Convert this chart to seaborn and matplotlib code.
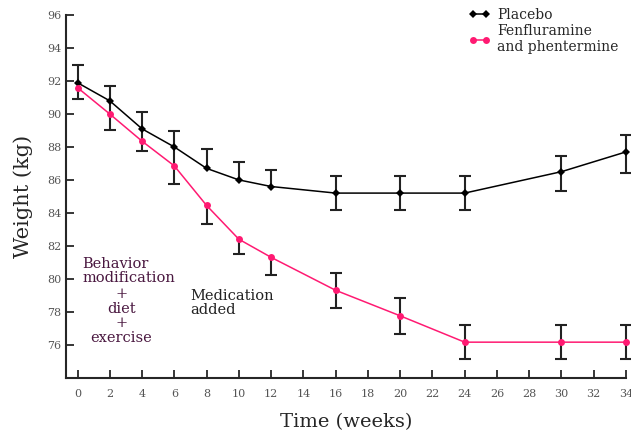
import numpy as np
import pandas as pd
import matplotlib
matplotlib.use("Agg")
import matplotlib.pyplot as plt
import seaborn as sns

# values
weeks = [0, 2, 4, 6, 8, 10, 12, 16, 20, 24, 30, 34]
placebo = [91.9, 90.8, 89.1, 88.0, 86.7, 86.0, 85.6, 85.2, 85.2, 85.2, 86.5, 87.7]
placebo_err_up = [1.1, 0.9, 1.0, 0.95, 1.15, 1.1, 1.0, 1.05, 1.05, 1.05, 0.95, 1.05]
placebo_err_down = [0.35, 0.85, 0.8, 1.15, 0, 0, 0, 1.0, 1.0, 1.0, 1.15, 1.3]
fenphen = [91.6, 90.0, 88.35, 86.85, 84.45, 82.4, 81.3, 79.3, 77.75, 76.15, 76.15, 76.15]
fenphen_err_up = [0, 0, 0, 0, 0, 0, 0, 1.05, 1.1, 1.05, 1.05, 1.05]
fenphen_err_down = [0.7, 1.0, 0.6, 1.1, 1.15, 0.9, 1.05, 1.05, 1.1, 1.0, 1.0, 1.0]
x_ticks = list(range(0, 35, 2))
y_ticks = list(range(76, 97, 2))

pink = "#ff1a72"
bar_color = "#222222"

sns.set_style("ticks")
plt.rcParams["font.family"] = ["DejaVu Serif"]
plt.rcParams["xtick.direction"] = "in"
plt.rcParams["ytick.direction"] = "in"

df = pd.DataFrame({"weeks": weeks, "placebo": placebo, "fenphen": fenphen})

fig = plt.figure(figsize=(6.31, 4.34), dpi=100)
ax = fig.add_axes([0.105, 0.13, 0.887, 0.835])

# error bars: where the two groups' bars touch they read as one bar,
# so merge the ranges per week; caps only where a bar ends away from a point
cap_x, cap_y = [], []
for i, w in enumerate(weeks):
    pts = (placebo[i], fenphen[i])
    spans = sorted([(placebo[i] - placebo_err_down[i], placebo[i] + placebo_err_up[i]),
                    (fenphen[i] - fenphen_err_down[i], fenphen[i] + fenphen_err_up[i])])
    merged = [list(spans[0])]
    for lo, hi in spans[1:]:
        if lo <= merged[-1][1]:
            merged[-1][1] = max(merged[-1][1], hi)
        else:
            merged.append([lo, hi])
    for lo, hi in merged:
        ax.vlines(w, lo, hi, color=bar_color, lw=1.5, clip_on=False)
        for end in (lo, hi):
            if end not in pts:
                cap_x.append(w)
                cap_y.append(end)
ax.plot(cap_x, cap_y, ls="none", marker="_", markersize=9, markeredgewidth=1.5,
        color=bar_color, clip_on=False)

sns.lineplot(data=df, x="weeks", y="placebo", ax=ax, color="black", lw=1.1,
             marker="D", markersize=4, markeredgewidth=0, label="Placebo")
sns.lineplot(data=df, x="weeks", y="fenphen", ax=ax, color=pink, lw=1.1,
             marker="o", markersize=5, markeredgewidth=0,
             label="Fenfluramine\nand phentermine")
for ln in ax.lines:
    ln.set_clip_on(False)

ax.set_xlim(-0.7, 34)
ax.set_ylim(74, 96)
ax.set_xticks(x_ticks)
ax.set_yticks(y_ticks)
ax.tick_params(axis="both", labelsize=8, labelcolor="#555555", length=6, width=1.3)
ax.tick_params(axis="x", pad=8)
for s in ["top", "right"]:
    ax.spines[s].set_visible(False)
for s in ["left", "bottom"]:
    ax.spines[s].set_linewidth(1.5)

ax.set_xlabel("Time (weeks)", fontsize=14, labelpad=10)
ax.set_ylabel("Weight (kg)", fontsize=15, labelpad=10)

ax.text(0.3, 81.35, "Behavior\nmodification", ha="left", va="top", fontsize=10.5,
        color="#4a1840", linespacing=1.05)
ax.text(2.7, 79.5, "+\ndiet\n+\nexercise", ha="center", va="top", fontsize=10.5,
        color="#4a1840", linespacing=1.05)
ax.text(7.0, 79.35, "Medication\nadded", ha="left", va="top", fontsize=10.5,
        color="#222222", linespacing=0.95)

ax.legend(loc="upper left", bbox_to_anchor=(0.71, 1.035), frameon=False,
          fontsize=10, numpoints=2, handlelength=1.5, handletextpad=0.5,
          labelspacing=0.15, borderaxespad=0)

fig.savefig("out.png", dpi=100)
